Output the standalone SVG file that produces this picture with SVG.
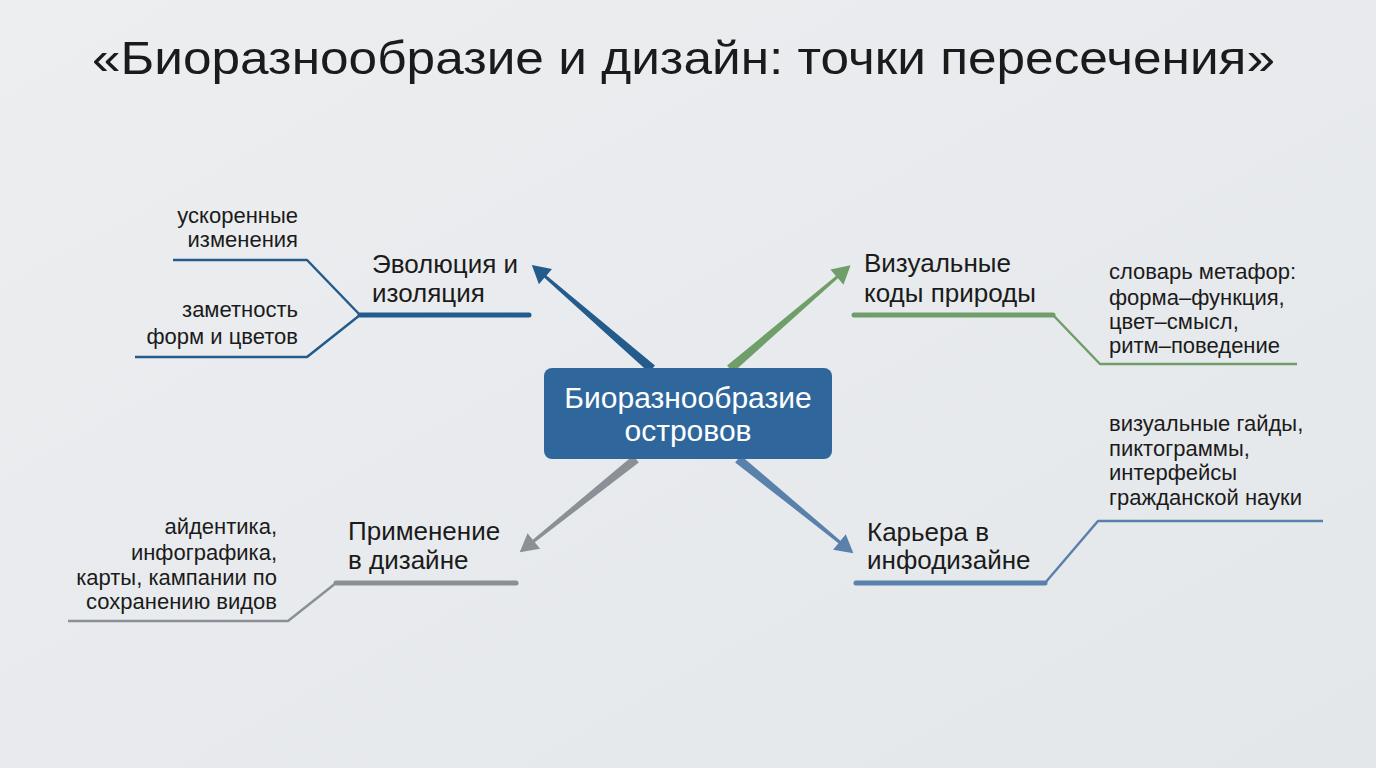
<svg xmlns="http://www.w3.org/2000/svg" width="1376" height="768" viewBox="0 0 1376 768">
<defs>
<linearGradient id="bg" x1="0" y1="0" x2="1" y2="1">
<stop offset="0" stop-color="#eceef0"/><stop offset="1" stop-color="#e4e7ea"/>
</linearGradient>
<path id="arrLong" d="M0,-4.5 L141,-1.6 L141,-10 L159,0 L141,10 L141,1.6 L0,4.5 Z"/>
<path id="arrShort" d="M0,-4.5 L131,-1.6 L131,-10 L149,0 L131,10 L131,1.6 L0,4.5 Z"/>
</defs>
<style>
text{font-family:"Liberation Sans","Noto Sans",Arial,sans-serif;fill:#1b1b1b}
.title{font-size:46px}
.main{font-size:26px}
.sub{font-size:22px}
.ctr{font-size:30px;fill:#ffffff}
.thick{fill:none;stroke-width:5;stroke-linecap:round}
.thin{fill:none;stroke-width:2.5;stroke-linejoin:round}
</style>
<rect width="1376" height="768" fill="url(#bg)"/>
<text class="title" x="92" y="74" textLength="1183" lengthAdjust="spacingAndGlyphs">«Биоразнообразие и дизайн: точки пересечения»</text>

<g id="connectors">
<use href="#arrLong" transform="translate(652,369) rotate(-139.09)" fill="#245b8d"/>
<use href="#arrLong" transform="translate(730,369) rotate(-40.68)" fill="#6f9e6a"/>
<use href="#arrShort" transform="translate(636,459) rotate(141.28)" fill="#8b9096"/>
<use href="#arrShort" transform="translate(738,459) rotate(39.26)" fill="#5a80ac"/>
</g>

<g id="center">
<rect x="544" y="368" width="288" height="91" rx="8" fill="#2f679c"/>
<text class="ctr" x="688" y="408" text-anchor="middle">Биоразнообразие</text>
<text class="ctr" x="688" y="441" text-anchor="middle">островов</text>
</g>

<g id="evolution">
<text class="main" x="372" y="273">Эволюция и</text>
<text class="main" x="372" y="302">изоляция</text>
<line class="thick" x1="360" y1="315" x2="529" y2="315" stroke="#245b8d"/>
<polyline class="thin" points="173,260 307,260 360,315 307,357 135,357" stroke="#245b8d"/>
<text class="sub" x="298" y="223" text-anchor="end">ускоренные</text>
<text class="sub" x="298" y="247" text-anchor="end">изменения</text>
<text class="sub" x="298" y="317" text-anchor="end">заметность</text>
<text class="sub" x="298" y="344" text-anchor="end">форм и цветов</text>
</g>

<g id="visual">
<text class="main" x="864" y="272">Визуальные</text>
<text class="main" x="864" y="302">коды природы</text>
<line class="thick" x1="854" y1="315" x2="1053" y2="315" stroke="#6f9e6a"/>
<polyline class="thin" points="1053,315 1100,364 1297,364" stroke="#6f9e6a"/>
<text class="sub" x="1109" y="279">словарь метафор:</text>
<text class="sub" x="1109" y="305">форма–функция,</text>
<text class="sub" x="1109" y="329">цвет–смысл,</text>
<text class="sub" x="1109" y="353">ритм–поведение</text>
</g>

<g id="application">
<text class="main" x="348" y="540">Применение</text>
<text class="main" x="348" y="569">в дизайне</text>
<line class="thick" x1="336" y1="583" x2="516" y2="583" stroke="#8b9096"/>
<polyline class="thin" points="336,583 288,621 68,621" stroke="#8b9096"/>
<text class="sub" x="277" y="534" text-anchor="end">айдентика,</text>
<text class="sub" x="277" y="560" text-anchor="end">инфографика,</text>
<text class="sub" x="277" y="585" text-anchor="end">карты, кампании по</text>
<text class="sub" x="277" y="609" text-anchor="end">сохранению видов</text>
</g>

<g id="career">
<text class="main" x="867" y="541">Карьера в</text>
<text class="main" x="867" y="569">инфодизайне</text>
<line class="thick" x1="856" y1="583" x2="1045" y2="583" stroke="#5a80ac"/>
<polyline class="thin" points="1045,583 1098,521 1323,521" stroke="#5a80ac"/>
<text class="sub" x="1109" y="431">визуальные гайды,</text>
<text class="sub" x="1109" y="456">пиктограммы,</text>
<text class="sub" x="1109" y="480">интерфейсы</text>
<text class="sub" x="1109" y="505">гражданской науки</text>
</g>
</svg>
